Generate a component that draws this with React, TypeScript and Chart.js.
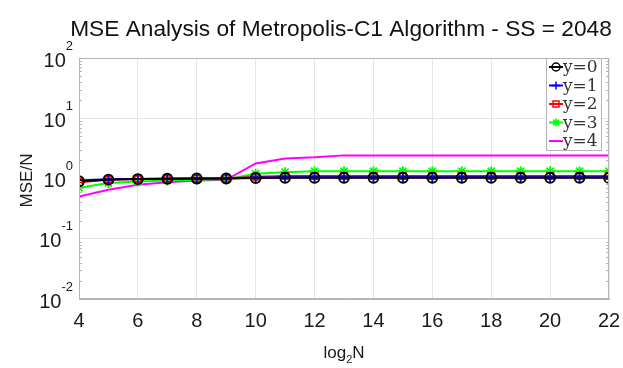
import React, { useEffect, useRef } from 'react';
import { Chart, registerables } from 'chart.js';
Chart.register(...registerables);

const titleText = 'MSE Analysis of Metropolis-C1 Algorithm - SS = 2048';
const yTitle = 'MSE/N';
const xLog = [4, 5, 6, 7, 8, 9, 10, 11, 12, 13, 14, 15, 16, 17, 18, 19, 20, 21, 22];
const xTicks = [4, 6, 8, 10, 12, 14, 16, 18, 20, 22];
const yDecades = [-2, -1, 0, 1, 2];
const seriesNames = ['y=0', 'y=1', 'y=2', 'y=3', 'y=4'];
const y0 = [0.9, 0.96, 0.98, 0.99, 1.0, 1.0, 1.02, 1.03, 1.03, 1.03, 1.03, 1.03, 1.03, 1.03, 1.03, 1.03, 1.03, 1.03, 1.03];
const y1 = [0.93, 0.97, 0.98, 0.99, 1.0, 1.0, 1.04, 1.05, 1.05, 1.05, 1.05, 1.05, 1.05, 1.05, 1.05, 1.05, 1.05, 1.05, 1.05];
const y2 = [0.87, 0.95, 0.98, 0.99, 1.0, 1.0, 1.07, 1.1, 1.1, 1.1, 1.1, 1.1, 1.1, 1.1, 1.1, 1.1, 1.1, 1.1, 1.1];
const y3 = [0.7, 0.84, 0.89, 0.93, 0.95, 0.97, 1.2, 1.27, 1.32, 1.32, 1.32, 1.32, 1.32, 1.32, 1.32, 1.32, 1.32, 1.32, 1.32];
const y4 = [0.5, 0.65, 0.79, 0.87, 0.93, 0.95, 1.78, 2.15, 2.25, 2.42, 2.42, 2.42, 2.42, 2.42, 2.42, 2.42, 2.42, 2.42, 2.42];

const colors = ['#000000', '#0000ff', '#ff0000', '#00ff00', '#ff00ff'];
const markers: any[] = ['circle', 'cross', 'rect', 'star', false];

const SANS = '"Liberation Sans", Arial, sans-serif';
const SERIF = '"DejaVu Serif", "Liberation Serif", serif';

function drawMarker(ctx: any, style: string, x: number, y: number, r: number, stroke: string) {
  ctx.save();
  ctx.strokeStyle = stroke;
  ctx.beginPath();
  if (style === 'circle') {
    ctx.arc(x, y, r, 0, Math.PI * 2);
  } else if (style === 'cross') {
    ctx.moveTo(x - r, y); ctx.lineTo(x + r, y);
    ctx.moveTo(x, y - r); ctx.lineTo(x, y + r);
  } else if (style === 'rect') {
    ctx.rect(x - r * 0.75, y - r * 0.75, r * 1.5, r * 1.5);
  } else if (style === 'star') {
    for (let k = 0; k < 4; k++) {
      const a = (k * Math.PI) / 4;
      ctx.moveTo(x - r * Math.cos(a), y - r * Math.sin(a));
      ctx.lineTo(x + r * Math.cos(a), y + r * Math.sin(a));
    }
  }
  ctx.stroke();
  ctx.restore();
}

const decor = {
  id: 'decor',
  afterDraw(chart: any) {
    const ctx = chart.ctx;
    const { left, right, top, bottom } = chart.chartArea;
    const ys = chart.scales.y;
    ctx.save();
    // frame
    ctx.strokeStyle = '#b4b4b4';
    ctx.lineWidth = 1;
    ctx.strokeRect(left + 0.5, top + 0.5, right - left - 1, bottom - top - 1);
    // minor ticks on log axis
    for (let e = -2; e < 2; e++) {
      for (let m = 2; m <= 9; m++) {
        const py = Math.round(ys.getPixelForValue(m * Math.pow(10, e))) + 0.5;
        ctx.beginPath();
        ctx.moveTo(left, py); ctx.lineTo(left + 3, py);
        ctx.moveTo(right, py); ctx.lineTo(right - 3, py);
        ctx.stroke();
      }
    }
    // y tick labels
    ctx.fillStyle = '#1a1a1a';
    yDecades.forEach((e) => {
      const py = ys.getPixelForValue(Math.pow(10, e));
      const ex = String(e);
      ctx.font = '13px ' + SANS;
      const ew = ctx.measureText(ex).width;
      ctx.font = '20px ' + SANS;
      ctx.textAlign = 'right';
      ctx.textBaseline = 'middle';
      const xr = left - 6 - ew;
      ctx.fillText('10', xr, py + 3);
      ctx.font = '13px ' + SANS;
      ctx.textAlign = 'left';
      ctx.fillText(ex, xr, py - 12);
    });
    // y title
    ctx.save();
    ctx.translate(27, (top + bottom) / 2 + 2);
    ctx.rotate(-Math.PI / 2);
    ctx.font = '17px ' + SANS;
    ctx.textAlign = 'center';
    ctx.textBaseline = 'middle';
    ctx.fillText(yTitle, 0, 0);
    ctx.restore();
    // x title log_2 N
    const cx = (left + right) / 2;
    const by = 358;
    ctx.textBaseline = 'alphabetic';
    ctx.textAlign = 'left';
    ctx.font = '17px ' + SANS;
    const w1 = ctx.measureText('log').width;
    const w3 = ctx.measureText('N').width;
    ctx.font = '11px ' + SANS;
    const w2 = ctx.measureText('2').width;
    const sx = cx - (w1 + w2 + w3) / 2;
    ctx.font = '17px ' + SANS;
    ctx.fillText('log', sx, by);
    ctx.font = '11px ' + SANS;
    ctx.fillText('2', sx + w1, by + 5);
    ctx.font = '17px ' + SANS;
    ctx.fillText('N', sx + w1 + w2, by);
    // title
    ctx.font = '22.7px ' + SANS;
    ctx.textAlign = 'center';
    ctx.textBaseline = 'alphabetic';
    ctx.fillStyle = '#111';
    ctx.fillText(titleText, 341, 36);
    // legend
    const lx = 546, ly = top, lw = 55, lh = 92;
    ctx.fillStyle = '#fff';
    ctx.fillRect(lx, ly, lw, lh);
    ctx.strokeStyle = '#b4b4b4';
    ctx.lineWidth = 1;
    ctx.strokeRect(lx + 0.5, ly + 0.5, lw, lh);
    chart.data.datasets.forEach((ds: any, i: number) => {
      const yy = ly + 9 + i * 18.5;
      ctx.strokeStyle = ds.borderColor;
      ctx.lineWidth = 2;
      ctx.beginPath();
      ctx.moveTo(lx + 3, yy); ctx.lineTo(lx + 17, yy);
      ctx.stroke();
      if (ds.pointStyle) {
        ctx.lineWidth = 1.5;
        drawMarker(ctx, ds.pointStyle, lx + 10, yy, 4, ds.borderColor);
      }
      ctx.fillStyle = '#333';
      ctx.font = '17px ' + SERIF;
      ctx.textAlign = 'left';
      ctx.textBaseline = 'middle';
      ctx.fillText(ds.label, lx + 17, yy + 1);
    });
    ctx.restore();
  },
};

export default function App() {
  const ref = useRef<HTMLCanvasElement>(null);
  useEffect(() => {
    document.body.style.margin = '0';
    const seriesValues = [y0, y1, y2, y3, y4];
    const chart = new Chart(ref.current!, {
      type: 'line',
      data: {
        datasets: seriesValues.map((vals, i) => ({
          label: seriesNames[i],
          data: xLog.map((x, j) => ({ x, y: vals[j] })),
          borderColor: colors[i],
          backgroundColor: colors[i],
          pointBackgroundColor: 'rgba(0,0,0,0)',
          pointBorderColor: colors[i],
          pointStyle: markers[i],
          pointRadius: markers[i] ? (i === 2 ? 4.5 : 5) : 0,
          pointBorderWidth: 1.8,
          borderWidth: 2,
          fill: false,
          tension: 0,
        })),
      },
      plugins: [decor],
      options: {
        responsive: false,
        animation: false,
        layout: { autoPadding: false, padding: { left: 79, right: 14, top: 58, bottom: 25 } },
        plugins: { legend: { display: false }, tooltip: { enabled: false }, title: { display: false } },
        scales: {
          x: {
            type: 'linear',
            min: 4,
            max: 22,
            afterBuildTicks: (axis: any) => { axis.ticks = xTicks.map((v) => ({ value: v })); },
            afterFit: (axis: any) => { axis.paddingLeft = 0; axis.paddingRight = 0; },
            ticks: { color: '#1a1a1a', font: { family: SANS, size: 20 }, padding: 10, maxRotation: 0 },
            grid: { color: '#e6e6e6', drawTicks: false },
            border: { color: '#b4b4b4' },
          },
          y: {
            type: 'logarithmic',
            min: 0.01,
            max: 100,
            ticks: { display: false },
            afterFit: (axis: any) => { axis.paddingTop = 0; axis.paddingBottom = 0; },
            grid: {
              drawTicks: false,
              color: (c: any) => {
                const v = c.tick ? c.tick.value : 0;
                const l = Math.log10(v);
                return Math.abs(l - Math.round(l)) < 1e-6 ? '#e6e6e6' : 'rgba(0,0,0,0)';
              },
            },
            border: { color: '#b4b4b4' },
          },
        },
      },
    });
    return () => chart.destroy();
  }, []);
  return <canvas ref={ref} width={623} height={368} />;
}
